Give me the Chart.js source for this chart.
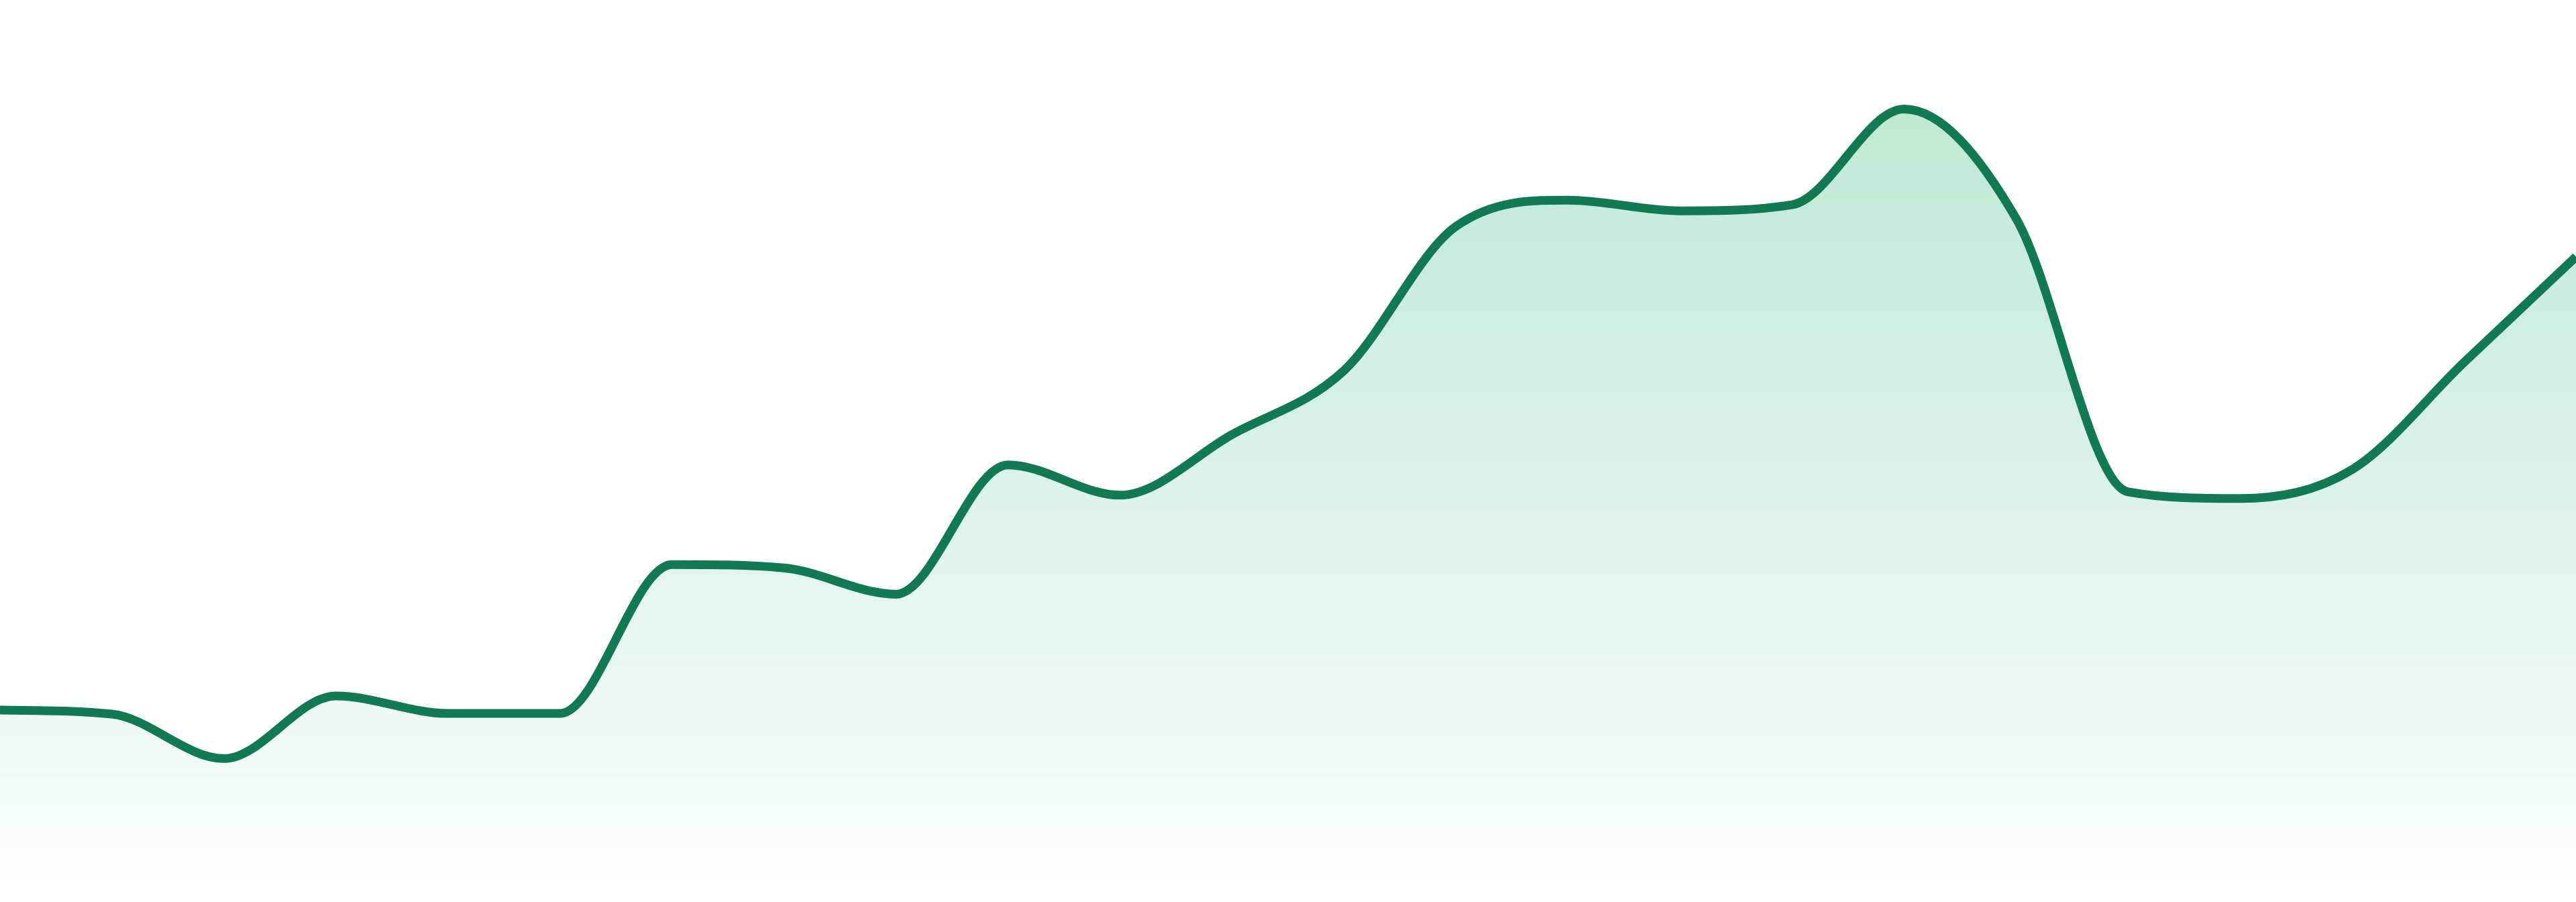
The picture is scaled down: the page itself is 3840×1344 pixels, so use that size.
<!DOCTYPE html>
<html>
<head>
<meta charset="utf-8">
<script src="https://cdn.jsdelivr.net/npm/chart.js@4.4.1/dist/chart.umd.min.js"></script>
<style>
  html, body { margin: 0; padding: 0; background: #ffffff; overflow: hidden; }
  #wrap { width: 3840px; height: 1344px; position: relative; }
  #c { display: block; }
</style>
</head>
<body>
<div id="wrap"><canvas id="c" width="3840" height="1344"></canvas></div>
<script>
const labels = ["1","2","3","4","5","6","7","8","9","10","11","12","13","14","15","16","17","18","19","20","21","22","23","24"];
const values = [24.6, 24.0, 17.4, 26.7, 24.1, 24.1, 46.2, 45.7, 41.8, 61.0, 56.5, 65.5, 75.0, 96.4, 100.3, 98.7, 99.6, 113.8, 97.6, 57.0, 56.0, 60.3, 76.2, 91.9];
const yMin = 0;
const yMax = 130;

const ctx = document.getElementById('c').getContext('2d');
new Chart(ctx, {
  type: 'line',
  data: {
    labels: labels,
    datasets: [{
      data: values,
      borderColor: '#127a50',
      borderWidth: 13,
      pointRadius: 0,
      pointHoverRadius: 0,
      cubicInterpolationMode: 'monotone',
      fill: 'origin',
      backgroundColor: function(context) {
        const chart = context.chart;
        const area = chart.chartArea;
        if (!area) return 'rgba(25,175,105,0.2)';
        const g = chart.ctx.createLinearGradient(0, area.top, 0, area.bottom);
        g.addColorStop(0, 'rgba(25,175,105,0.32)');
        g.addColorStop(1, 'rgba(25,175,105,0.02)');
        return g;
      }
    }]
  },
  options: {
    responsive: false,
    maintainAspectRatio: false,
    devicePixelRatio: 1,
    animation: false,
    events: [],
    layout: { autoPadding: false, padding: { top: 0, bottom: 39, left: 0, right: 0 } },
    plugins: { legend: { display: false }, tooltip: { enabled: false } },
    scales: {
      x: { display: false, offset: false },
      y: { display: false, min: yMin, max: yMax }
    }
  }
});
</script>
</body>
</html>
